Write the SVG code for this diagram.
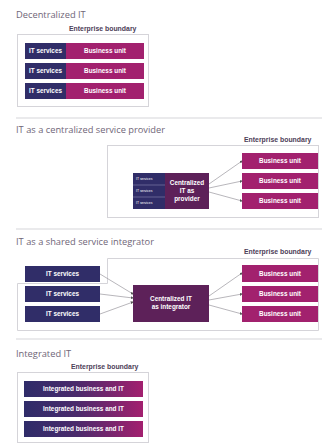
<svg xmlns="http://www.w3.org/2000/svg" width="322" height="443" viewBox="0 0 322 443">
  <defs>
    <linearGradient id="gradIntegrated" x1="0" y1="0" x2="1" y2="0">
      <stop offset="0" stop-color="#2f2c69"/>
      <stop offset="0.45" stop-color="#4b2a6c"/>
      <stop offset="1" stop-color="#a3206f"/>
    </linearGradient>
    <marker id="dot" viewBox="0 0 4 4" refX="3" refY="2" markerWidth="3" markerHeight="3" orient="auto" markerUnits="userSpaceOnUse">
      <path d="M0,0 L4,2 L0,4 Z" fill="#555"/>
    </marker>
  </defs>
  <style>
    .title { font-family: "Open Sans", "Liberation Sans", sans-serif; font-size: 9.3px; fill: #6f6678; }
    .eb { font-family: "Liberation Sans", "DejaVu Sans", sans-serif; font-size: 6.9px; font-weight: bold; fill: #4d4058; }
    .lbl { font-family: "Liberation Sans", "DejaVu Sans", sans-serif; font-size: 6.4px; font-weight: bold; fill: #ffffff; text-anchor: middle; }
    .tiny { font-family: "Liberation Sans", "DejaVu Sans", sans-serif; font-size: 3.4px; fill: #ffffff; }
    .sep { stroke: #e3e3e6; stroke-width: 1.5; fill: none; }
    .boundary { stroke: #d5d4d9; stroke-width: 1; fill: none; }
    .navy { fill: #302d68; }
    .magenta { fill: #a2216e; }
    .plum { fill: #5d2159; }
    .conn { stroke: #a6a3aa; stroke-width: 0.8; fill: none; marker-end: url(#dot); }
  </style>

  <rect width="322" height="443" fill="#ffffff"/>

  <!-- section separators -->
  <line class="sep" x1="16" y1="118" x2="322" y2="118"/>
  <line class="sep" x1="16" y1="229" x2="322" y2="229"/>
  <line class="sep" x1="16" y1="339" x2="322" y2="339"/>

  <!-- Decentralized IT -->
  <g id="decentralized">
    <text class="title" x="16" y="18">Decentralized IT</text>
    <text class="eb" x="69" y="31">Enterprise boundary</text>
    <rect class="boundary" x="17.5" y="34.5" width="131" height="72"/>
    <g id="dec-row1">
      <rect class="navy" x="25" y="43" width="41" height="16"/>
      <rect class="magenta" x="66" y="43" width="78" height="16"/>
      <text class="lbl" x="45.5" y="53.2">IT services</text>
      <text class="lbl" x="105" y="53.2">Business unit</text>
    </g>
    <g id="dec-row2">
      <rect class="navy" x="25" y="63" width="41" height="16"/>
      <rect class="magenta" x="66" y="63" width="78" height="16"/>
      <text class="lbl" x="45.5" y="73.2">IT services</text>
      <text class="lbl" x="105" y="73.2">Business unit</text>
    </g>
    <g id="dec-row3">
      <rect class="navy" x="25" y="83" width="41" height="16"/>
      <rect class="magenta" x="66" y="83" width="78" height="16"/>
      <text class="lbl" x="45.5" y="93.2">IT services</text>
      <text class="lbl" x="105" y="93.2">Business unit</text>
    </g>
  </g>

  <!-- IT as a centralized service provider -->
  <g id="provider-section">
    <text class="title" x="16" y="133">IT as a centralized service provider</text>
    <text class="eb" x="244" y="142">Enterprise boundary</text>
    <rect class="boundary" x="107.5" y="145.5" width="211" height="72"/>
  </g>
  <g id="provider">
    <rect class="navy" x="133" y="173" width="32" height="36"/>
    <line x1="133" y1="185" x2="165" y2="185" stroke="#8a87b0" stroke-width="0.6"/>
    <line x1="133" y1="197" x2="165" y2="197" stroke="#8a87b0" stroke-width="0.6"/>
    <text class="tiny" x="136" y="180.3">IT services</text>
    <text class="tiny" x="136" y="192.3">IT services</text>
    <text class="tiny" x="136" y="204.3">IT services</text>
    <rect class="plum" x="165" y="173" width="44" height="36"/>
    <text class="lbl" x="187" y="185">Centralized</text>
    <text class="lbl" x="187" y="193">IT as</text>
    <text class="lbl" x="187" y="201">provider</text>
  </g>
  <g id="prov-bu1">
    <rect class="magenta" x="242" y="153" width="76" height="16"/>
    <text class="lbl" x="280" y="163.2">Business unit</text>
  </g>
  <g id="prov-bu2">
    <rect class="magenta" x="242" y="173" width="76" height="16"/>
    <text class="lbl" x="280" y="183.2">Business unit</text>
  </g>
  <g id="prov-bu3">
    <rect class="magenta" x="242" y="193" width="76" height="16"/>
    <text class="lbl" x="280" y="203.2">Business unit</text>
  </g>

  <!-- IT as a shared service integrator -->
  <g id="integrator-section">
    <text class="title" x="16" y="245">IT as a shared service integrator</text>
    <text class="eb" x="244" y="254">Enterprise boundary</text>
    <path class="boundary" d="M107.5,258.5 H318.5 V330.5 H17.5 V283.5 H107.5 Z"/>
  </g>
  <g id="int-its1">
    <rect class="navy" x="25" y="266" width="75" height="16"/>
    <text class="lbl" x="62.5" y="276.2">IT services</text>
  </g>
  <g id="int-its2">
    <rect class="navy" x="25" y="286" width="75" height="16"/>
    <text class="lbl" x="62.5" y="296.2">IT services</text>
  </g>
  <g id="int-its3">
    <rect class="navy" x="25" y="306" width="75" height="16"/>
    <text class="lbl" x="62.5" y="316.2">IT services</text>
  </g>
  <g id="integrator">
    <rect class="plum" x="133" y="285" width="76" height="37"/>
    <text class="lbl" x="171" y="301">Centralized IT</text>
    <text class="lbl" x="171" y="309">as integrator</text>
  </g>
  <g id="int-bu1">
    <rect class="magenta" x="242" y="265" width="76" height="17"/>
    <text class="lbl" x="280" y="275.7">Business unit</text>
  </g>
  <g id="int-bu2">
    <rect class="magenta" x="242" y="286" width="76" height="16"/>
    <text class="lbl" x="280" y="296.2">Business unit</text>
  </g>
  <g id="int-bu3">
    <rect class="magenta" x="242" y="306" width="76" height="16"/>
    <text class="lbl" x="280" y="316.2">Business unit</text>
  </g>

  <!-- Integrated IT -->
  <g id="integrated">
    <text class="title" x="16" y="357">Integrated IT</text>
    <text class="eb" x="71" y="369">Enterprise boundary</text>
    <rect class="boundary" x="17.5" y="372.5" width="131" height="70"/>
    <g id="integrated-row1">
      <rect x="24" y="381" width="119" height="16" fill="url(#gradIntegrated)"/>
      <text class="lbl" x="83.5" y="391.2">Integrated business and IT</text>
    </g>
    <g id="integrated-row2">
      <rect x="24" y="401" width="119" height="16" fill="url(#gradIntegrated)"/>
      <text class="lbl" x="83.5" y="411.2">Integrated business and IT</text>
    </g>
    <g id="integrated-row3">
      <rect x="24" y="421" width="119" height="16" fill="url(#gradIntegrated)"/>
      <text class="lbl" x="83.5" y="431.2">Integrated business and IT</text>
    </g>
  </g>

  <!-- connectors -->
  <g id="connectors">
    <line class="conn" x1="209" y1="184" x2="242" y2="161"/>
    <line class="conn" x1="209" y1="188" x2="242" y2="181"/>
    <line class="conn" x1="209" y1="192" x2="242" y2="201"/>
    <line class="conn" x1="100" y1="274" x2="133" y2="294"/>
    <line class="conn" x1="100" y1="294" x2="133" y2="298"/>
    <line class="conn" x1="100" y1="314" x2="133" y2="302"/>
    <line class="conn" x1="209" y1="296" x2="242" y2="273"/>
    <line class="conn" x1="209" y1="300" x2="242" y2="294"/>
    <line class="conn" x1="209" y1="305" x2="242" y2="314"/>
  </g>
</svg>
